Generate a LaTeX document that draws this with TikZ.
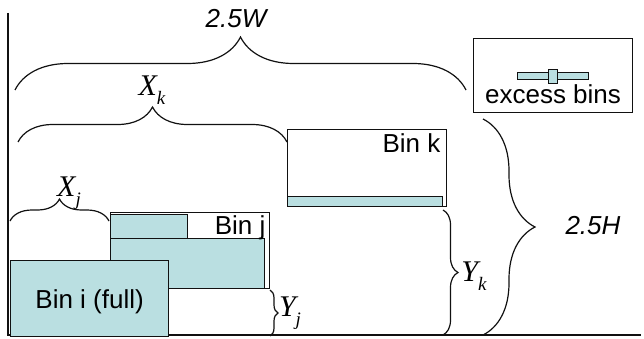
\documentclass[tikz,border=0pt]{standalone}
\usepackage{fontspec}
\setmainfont{Liberation Serif}
\setsansfont{Liberation Sans}
\usepackage{xcolor}
\usetikzlibrary{positioning,calc,decorations.pathreplacing}
\definecolor{bfill}{HTML}{BADFE1}
\definecolor{bline}{HTML}{111111}
\newcommand{\subv}[2]{{\itshape #1}\raisebox{-9pt}{\fontsize{19}{19}\selectfont\itshape #2}}

\begin{document}
\begin{tikzpicture}[x=1pt, y=-1pt, line width=1.3pt,
  bin/.style={draw=bline, line width=1.4pt, fill=white, anchor=north west,
              inner sep=0pt, minimum width=#1},
  load/.style={draw=bline, line width=1.2pt, fill=bfill, anchor=north west,
               inner sep=0pt, minimum width=#1},
  brc/.style={decorate, decoration={brace, amplitude=#1}, line width=1.2pt, draw=bline},
  lbl/.style={font=\sffamily\fontsize{26}{30}\selectfont, inner sep=0pt},
  var/.style={font=\rmfamily\fontsize{30}{32}\selectfont, inner sep=0pt}]
  \useasboundingbox (0,0) rectangle (644,339);
  % --- axes
  \coordinate (top)    at (8,13);
  \coordinate (origin) at (8,335);
  \coordinate (right)  at (641,335);
  \draw[line width=1.3pt, bline] (top) -- (origin) -- (right);
  % --- bin j with its loads
  \node[bin=159pt, minimum height=76pt]  (binj)  at (110,212) {};
  \node[load=77pt, minimum height=24pt]  (ldja)  at (110,214) {};
  \node[load=154pt, minimum height=50pt] (ldjb)  at (110,238) {};
  \node[lbl, anchor=north east] (tbinj) at (266,215) {Bin j};
  % --- bin i (full)
  \node[load=158pt, minimum height=76pt] (bini) at (10,260) {};
  \node[lbl] (tbini) at ($(bini.center)+(0,3)$) {Bin i (full)};
  % --- bin k
  \node[bin=159pt, minimum height=77pt]  (bink)  at (287,129) {};
  \node[load=155pt, minimum height=10pt] (ldk)   at (287,196) {};
  \node[lbl, anchor=north east] (tbink) at (441,133) {Bin k};
  % --- excess bins
  \node[bin=159pt, minimum height=74pt]  (exc)   at (473,38) {};
  \node[load=71pt, minimum height=7pt]   (ldx)   at (517,72) {};
  \node[load=9pt, minimum height=14pt]   (ldxs)  at (548,69) {};
  \node[lbl] (texc) at (553,94) {excess bins};
  % --- braces
  \coordinate (wa) at (15,90);   \coordinate (wb) at (466,90);
  \coordinate (ka) at (18,142);  \coordinate (kb) at (bink.north west |- 0,142);
  \coordinate (ja) at (10,221);  \coordinate (jb) at (109,221);
  \coordinate (yja) at (270,290); \coordinate (yjb) at (270,336);
  \coordinate (yka) at (443,210); \coordinate (ykb) at (443,335);
  \coordinate (ha) at (483,119);  \coordinate (hb) at (483,335);
  \draw[brc=53] (wa) -- (wb);
  \draw[brc=35] (ka) -- (kb);
  \draw[brc=22] (ja) -- (jb);
  \draw[brc=8]  (yja) -- (yjb);
  \draw[brc=15] (yka) -- (ykb);
  \draw[brc=52] (ha) -- (hb);
  % --- labels
  \node[lbl] (lw)  at (237,19)  {\textit{2.5W}};
  \node[lbl] (lh)  at (593,226) {\textit{2.5H}};
  \node[var] (lxk) at (152,90)  {\subv{X}{k}};
  \node[var] (lxj) at (69,193)  {\subv{X}{j}};
  \node[var] (lyj) at (290,313) {\subv{Y}{j}};
  \node[var] (lyk) at (474,276) {\subv{Y}{k}};
\end{tikzpicture}
\end{document}
